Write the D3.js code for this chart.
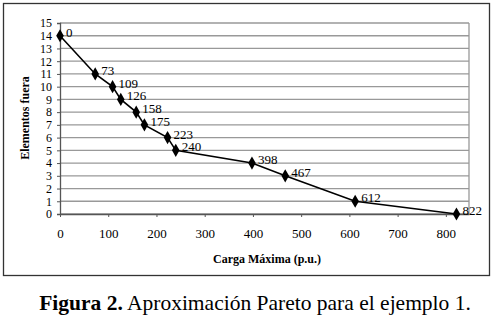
<!DOCTYPE html>
<html>
<head>
<meta charset="utf-8">
<script src="https://cdn.jsdelivr.net/npm/d3@7"></script>
<style>
body { margin: 0; background: #fff; }
</style>
</head>
<body>
<div id="chart"></div>
<script>
const carga = [0, 73, 109, 126, 158, 175, 223, 240, 398, 467, 612, 822];
const elementos = [14, 11, 10, 9, 8, 7, 6, 5, 4, 3, 1, 0];
const xTicks = [0, 100, 200, 300, 400, 500, 600, 700, 800];
const yTicks = d3.range(0, 16);

const serif = "'Liberation Serif', 'Times New Roman', 'DejaVu Serif', serif";
const width = 494;
const height = 320;
const plot = { left: 60, top: 23, right: 469, bottom: 214 };

const svg = d3.select("#chart")
    .append("svg")
    .attr("width", width)
    .attr("height", height)
    .style("font-family", serif);

// outer frame
svg.append("rect")
    .attr("x", 3.5)
    .attr("y", 3.5)
    .attr("width", 486)
    .attr("height", 272)
    .attr("fill", "none")
    .attr("stroke", "#333")
    .attr("stroke-width", 1.3);

const x = d3.scaleLinear()
    .domain([0, 848])
    .range([plot.left, plot.right]);

const y = d3.scaleLinear()
    .domain([0, 15])
    .range([plot.bottom, plot.top]);

// gridlines
svg.append("g")
    .selectAll("line")
    .data(yTicks)
    .enter()
    .append("line")
    .attr("x1", plot.left)
    .attr("x2", plot.right)
    .attr("y1", d => y(d))
    .attr("y2", d => y(d))
    .attr("stroke", "#999")
    .attr("stroke-width", 1.3);

// right border of plot
svg.append("line")
    .attr("x1", plot.right)
    .attr("x2", plot.right)
    .attr("y1", plot.top)
    .attr("y2", plot.bottom)
    .attr("stroke", "#999")
    .attr("stroke-width", 1.3);

// y axis
const yAxis = svg.append("g")
    .attr("transform", `translate(${plot.left},0)`)
    .call(d3.axisLeft(y).tickValues(yTicks).tickSize(3).tickPadding(5));
yAxis.attr("font-family", null).attr("font-size", null);
yAxis.selectAll("text").style("font-size", "12px").attr("fill", "#000");
yAxis.selectAll("line").attr("stroke", "#555");
yAxis.select(".domain").attr("stroke", "#555").attr("stroke-width", 1.3);

// x axis
const xAxis = svg.append("g")
    .attr("transform", `translate(0,${plot.bottom})`)
    .call(d3.axisBottom(x).tickValues(xTicks).tickSize(3).tickPadding(12).tickSizeOuter(0));
xAxis.attr("font-family", null).attr("font-size", null);
xAxis.selectAll("text").style("font-size", "13px").attr("fill", "#000");
xAxis.selectAll("line").attr("stroke", "#555");
xAxis.select(".domain").attr("stroke", "#555").attr("stroke-width", 1.3);

const pts = carga.map((c, i) => ({ c: c, e: elementos[i] }));

const line = d3.line()
    .x(d => x(d.c))
    .y(d => y(d.e));

svg.append("path")
    .datum(pts)
    .attr("fill", "none")
    .attr("stroke", "#000")
    .attr("stroke-width", 1.6)
    .attr("d", line);

svg.selectAll(".pt")
    .data(pts)
    .enter()
    .append("path")
    .attr("class", "pt")
    .attr("transform", d => `translate(${x(d.c)},${y(d.e)})`)
    .attr("d", d3.symbol(d3.symbolDiamond, 50))
    .attr("fill", "#000");

svg.selectAll(".lbl")
    .data(pts)
    .enter()
    .append("text")
    .attr("class", "lbl")
    .attr("x", d => x(d.c) + 6)
    .attr("y", d => y(d.e) + 1)
    .style("font-size", "13px")
    .text(d => d.c);

svg.append("text")
    .attr("x", 267)
    .attr("y", 263)
    .attr("text-anchor", "middle")
    .style("font-size", "12px")
    .style("font-weight", "bold")
    .text("Carga Máxima (p.u.)");

svg.append("text")
    .attr("transform", "rotate(-90)")
    .attr("x", -118)
    .attr("y", 29)
    .attr("text-anchor", "middle")
    .style("font-size", "12px")
    .style("font-weight", "bold")
    .text("Elementos fuera");

const cap = svg.append("text")
    .attr("x", 255)
    .attr("y", 310)
    .attr("text-anchor", "middle")
    .style("font-size", "21.5px");
cap.append("tspan").style("font-weight", "bold").text("Figura 2.");
cap.append("tspan").text(" Aproximación Pareto para el ejemplo 1.");
</script>
</body>
</html>
